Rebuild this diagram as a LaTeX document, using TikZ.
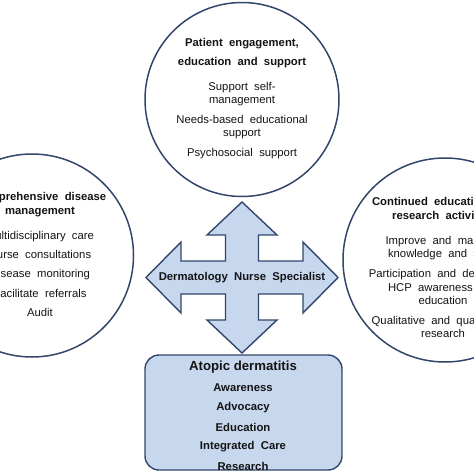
\documentclass[tikz,border=0pt]{standalone}
\usepackage{fontspec}
\setmainfont{Liberation Sans}
\usepackage{xcolor}
\usepackage{tikz}
\usetikzlibrary{positioning}
\definecolor{dnLine}{RGB}{ 50, 70,108}
\definecolor{dnFill}{RGB}{199,215,238}
\definecolor{dnText}{RGB}{ 20, 20, 20}

\begin{document}
\begin{tikzpicture}[x=1pt, y=-1pt,
    ring/.style={circle, draw=dnLine, line width=1.5pt, inner sep=0pt},
    ringhead/.style={font=\fontsize{11.3}{14}\selectfont\bfseries, align=center, anchor=north, inner sep=0pt, text=dnText},
    ringbody/.style={font=\fontsize{11.3}{13.6}\selectfont, align=center, anchor=north, inner sep=0pt, text=dnText},
    adline/.style={font=\fontsize{11.3}{13}\selectfont\bfseries, inner sep=0pt, text=dnText}
  ]
  \useasboundingbox (0,0) rectangle (474,474);
  \clip (0,0) rectangle (474,474);

  % three circles
  \node[ring, minimum size=194pt] (patient) at (242, 99.5) {};
  \node[ring, minimum size=203pt] (disease) at (32, 255.5) {};
  \node[ring, minimum size=204pt] (research) at (445, 260) {};

  % top circle
  \node[ringhead, font=\fontsize{11.3}{19}\selectfont\bfseries] (patienthead) at (242, 38)
    {Patient\ \ engagement,\\ education\ \ and\ \ support};
  \node[ringbody] (patientbody) at (242, 82)
    {Support\ \ self-\\ management\\[5.5pt] Needs-based\ \ educational\\ support\\[6pt] Psychosocial\ \ support};

  % left circle
  \node[ringhead] (diseasehead) at (40, 192)
    {Comprehensive\ \ disease\\ management};
  \node[ringbody, font=\fontsize{11.3}{19.3}\selectfont] (diseasebody) at (40, 231)
    {Multidisciplinary\ \ care\\ Nurse\ \ consultations\\ Disease\ \ monitoring\\ Facilitate\ \ referrals\\ Audit};

  % right circle
  \node[ringhead] (researchhead) at (443, 197)
    {Continued\ \ education\ \ and\\ research\ \ activities};
  \node[ringbody] (researchbody) at (443, 236)
    {Improve\ \ and\ \ maintain\\ knowledge\ \ and\ \ skills\\[6pt] Participation\ \ and\ \ delivery\ \ of\\ HCP\ \ awareness\ \ and\\ education\\[6pt] Qualitative\ \ and\ \ quantitative\\ research};

  % four-way arrow
  \draw[draw=dnLine, fill=dnFill, line width=1.4pt, line join=miter]
    (242,202) -- (277,235) -- (258.5,235) -- (258.5,261) -- (303,261) -- (303,242)
    -- (338,277.5) -- (303,313) -- (303,294) -- (258.5,294) -- (258.5,320) -- (277,320)
    -- (242,353) -- (207,320) -- (225.5,320) -- (225.5,294) -- (181,294) -- (181,313)
    -- (146,277.5) -- (181,242) -- (181,261) -- (225.5,261) -- (225.5,235) -- (207,235) -- cycle;
  \node[adline] (nurse) at (242, 277.5) {Dermatology\ \ Nurse\ \ Specialist};

  % bottom box
  \draw[draw=dnLine, fill=dnFill, line width=1.4pt, rounded corners=14pt]
    (145,355) rectangle (342,470);
  \node[font=\fontsize{13.2}{15}\selectfont\bfseries, inner sep=0pt, text=dnText] (atopic) at (243, 367) {Atopic dermatitis};
  \foreach \t [count=\k] in {Awareness, Advocacy, Education, Integrated\ \ Care, Research} {
    \node[adline] (aditem\k) at (243, 388+19.5*\k-19.5) {\t};
  }
\end{tikzpicture}
\end{document}
